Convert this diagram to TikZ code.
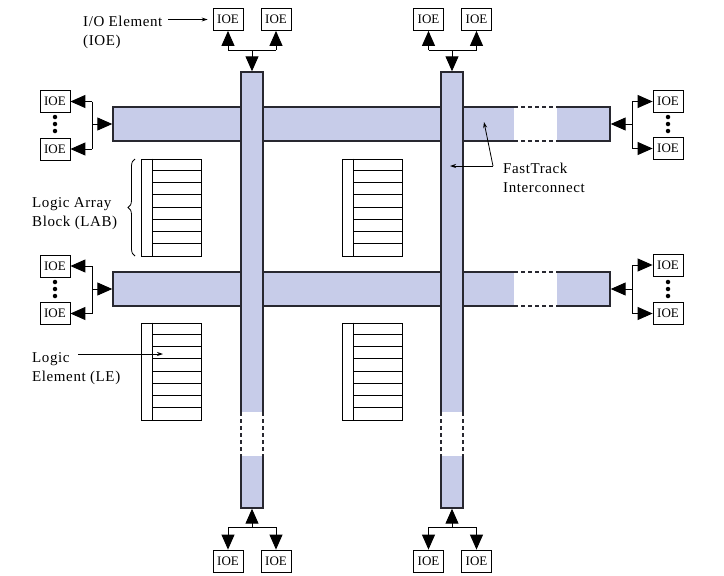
\documentclass[tikz,border=0pt]{standalone}
\usepackage{fontspec}
\setmainfont{Liberation Serif}
\newfontfamily\lblfamily[LetterSpace=4]{Liberation Serif}
\usetikzlibrary{arrows.meta,calc,decorations.pathreplacing}
\definecolor{busfill}{RGB}{199,204,233}
\definecolor{busline}{RGB}{40,40,48}
\begin{document}
\begin{tikzpicture}[x=1pt,y=-1pt,
  bus/.style={draw=busline, fill=busfill, line width=1.4pt, inner sep=0pt},
  ioe/.style={draw, line width=0.8pt, minimum width=30pt, minimum height=22pt, inner sep=0pt, font=\fontsize{13}{14}\selectfont},
  tri/.style={line width=1pt, -{Triangle[length=15pt,width=13pt]}},
  wire/.style={line width=1pt},
  sarr/.style={line width=0.8pt, -{Stealth[length=6pt,width=4pt]}},
  lbl/.style={anchor=base west, inner sep=0pt, font=\lblfamily\fontsize{15}{19}\selectfont},
  labbox/.style={draw, line width=1pt, minimum width=60pt, minimum height=97pt, inner sep=0pt},
  dotn/.style={circle, fill, inner sep=0pt, minimum size=4.5pt},
  gapline/.style={draw=busline, line width=1.2pt, dash pattern=on 4pt off 3pt},
]
\useasboundingbox (0,0) rectangle (724,576);
\fill[white] (0,0) rectangle (724,576);
% horizontal FastTrack buses
\node[bus, minimum width=497pt, minimum height=34pt] (h1) at (361.5,124) {};
\node[bus, minimum width=497pt, minimum height=34pt] (h2) at (361.5,289) {};
\foreach \y in {107,272} {
  \fill[white] (514,\y-1.5) rectangle (557,\y+35.5);
  \draw[gapline] (514,\y) -- (557,\y) (514,\y+34) -- (557,\y+34);
}
% vertical FastTrack buses
\node[bus, minimum width=22pt, minimum height=436pt] (v1) at (252,290) {};
\node[bus, minimum width=22pt, minimum height=436pt] (v2) at (452,290) {};
\foreach \x in {252,452} {
  \fill[white] (\x-12.5,412) rectangle (\x+12.5,456);
  \draw[gapline] (\x-11,412) -- (\x-11,456) (\x+11,412) -- (\x+11,456);
}
% LABs
\foreach \n/\x/\y in {lab1/171/207.5, lab2/372/207.5, lab3/171/371.5, lab4/372/371.5} {
  \node[labbox] (\n) at (\x,\y) {};
  \draw[line width=1pt] ($(\n.north west)+(12,0)$) -- ($(\n.south west)+(12,0)$);
  \foreach \k in {1,...,7}
    \draw[line width=1pt] ($(\n.north west)+(12,\k*12.125)$) -- ($(\n.north east)+(0,\k*12.125)$);
}
\draw[line width=0.8pt, decorate, decoration={brace, amplitude=7pt}] (135,256) -- (135,159);
% IOE blocks
\node[ioe] (t1) at (228,19.5) {IOE};
\node[ioe] (t2) at (276,19.5) {IOE};
\node[ioe] (t3) at (428.5,19.5) {IOE};
\node[ioe] (t4) at (476.5,19.5) {IOE};
\node[ioe] (b1) at (228,561) {IOE};
\node[ioe] (b2) at (276,561) {IOE};
\node[ioe] (b3) at (428.5,561) {IOE};
\node[ioe] (b4) at (476.5,561) {IOE};
\node[ioe] (l1) at (55,101.5) {IOE};
\node[ioe] (l2) at (55,149) {IOE};
\node[ioe] (l3) at (55,266) {IOE};
\node[ioe] (l4) at (55,313.5) {IOE};
\node[ioe] (r1) at (668,101.5) {IOE};
\node[ioe] (r2) at (668,148.5) {IOE};
\node[ioe] (r3) at (668,265) {IOE};
\node[ioe] (r4) at (668,313.5) {IOE};
% dots
\foreach \n/\x/\y in {da/55/117, db/55/124, dc/55/131, dd/668/117, de/668/124, df/668/131,
                      dg/55/282, dh/55/289, di/55/296, dj/668/282, dk/668/289, dl/668/296}
  \node[dotn] (\n) at (\x,\y) {};
% top connectors
\coordinate (jt1) at (252,50);
\coordinate (jt2) at (452,50);
\draw[wire] (t1.south |- jt1) -- (t2.south |- jt1);
\draw[tri] (t1.south |- jt1) -- (t1.south);
\draw[tri] (t2.south |- jt1) -- (t2.south);
\draw[tri] (jt1) -- (v1.north);
\draw[wire] (t3.south |- jt2) -- (t4.south |- jt2);
\draw[tri] (t3.south |- jt2) -- (t3.south);
\draw[tri] (t4.south |- jt2) -- (t4.south);
\draw[tri] (jt2) -- (v2.north);
% bottom connectors
\coordinate (jb1) at (252,527);
\coordinate (jb2) at (452,527);
\draw[wire] (b1.north |- jb1) -- (b2.north |- jb1);
\draw[tri] (b1.north |- jb1) -- (b1.north);
\draw[tri] (b2.north |- jb1) -- (b2.north);
\draw[tri] (jb1) -- (v1.south);
\draw[wire] (b3.north |- jb2) -- (b4.north |- jb2);
\draw[tri] (b3.north |- jb2) -- (b3.north);
\draw[tri] (b4.north |- jb2) -- (b4.north);
\draw[tri] (jb2) -- (v2.south);
% left connectors
\coordinate (jl1) at (92,124);
\coordinate (jl2) at (92,289);
\draw[wire] (jl1 |- l1.east) -- (jl1 |- l2.east);
\draw[tri] (jl1 |- l1.east) -- (l1.east);
\draw[tri] (jl1 |- l2.east) -- (l2.east);
\draw[tri] (jl1) -- (h1.west);
\draw[wire] (jl2 |- l3.east) -- (jl2 |- l4.east);
\draw[tri] (jl2 |- l3.east) -- (l3.east);
\draw[tri] (jl2 |- l4.east) -- (l4.east);
\draw[tri] (jl2) -- (h2.west);
% right connectors
\coordinate (jr1) at (632,124);
\coordinate (jr2) at (632,289);
\draw[wire] (jr1 |- r1.west) -- (jr1 |- r2.west);
\draw[tri] (jr1 |- r1.west) -- (r1.west);
\draw[tri] (jr1 |- r2.west) -- (r2.west);
\draw[tri] (jr1) -- (h1.east);
\draw[wire] (jr2 |- r3.west) -- (jr2 |- r4.west);
\draw[tri] (jr2 |- r3.west) -- (r3.west);
\draw[tri] (jr2 |- r4.west) -- (r4.west);
\draw[tri] (jr2) -- (h2.east);
% labels
\node[lbl] (io1) at (83,26) {I/O Element};
\node[lbl] (io2) at (83,45) {(IOE)};
\coordinate (ioa) at (168,19.5);
\draw[sarr, shorten >=5pt] (ioa) -- (t1.west);
\node[lbl] (lab1t) at (32,207) {Logic Array};
\node[lbl] (lab2t) at (32,226) {Block (LAB)};
\node[lbl] (le1) at (32,362) {Logic};
\node[lbl] (le2) at (32,381) {Element (LE)};
\coordinate (lea) at (78,354);
\coordinate (leb) at (163,354);
\draw[sarr] (lea) -- (leb);
\node[lbl] (ft1) at (503,173) {FastTrack};
\node[lbl] (ft2) at (503,192) {Interconnect};
\coordinate (fj) at (493,166);
\coordinate (fa) at (484,122);
\coordinate (fb) at (450,166);
\draw[sarr] (fj) -- (fa);
\draw[sarr] (fj) -- (fb);
\end{tikzpicture}
\end{document}
